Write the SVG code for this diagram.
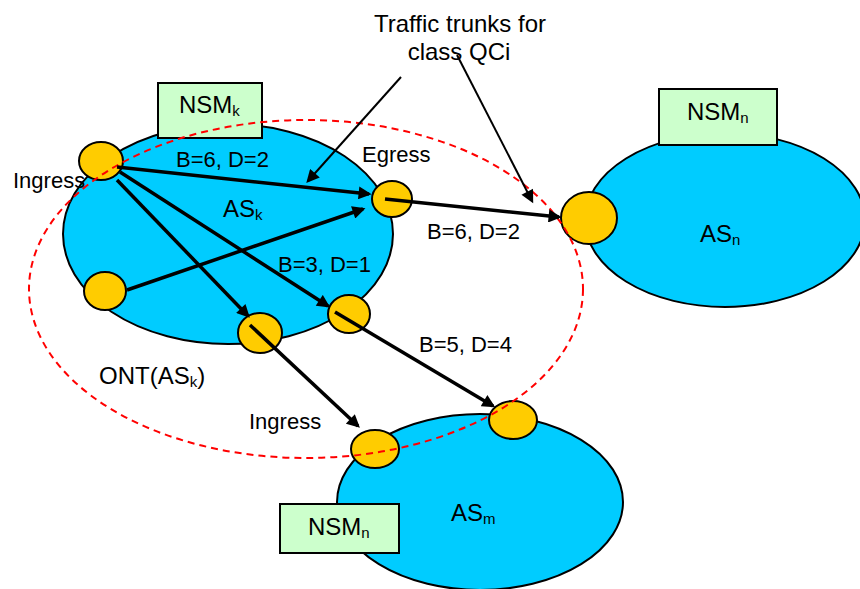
<svg xmlns="http://www.w3.org/2000/svg" width="860" height="589" viewBox="0 0 860 589">
<style>
.as{fill:#00CCFF;stroke:#000;stroke-width:2}
.pt{fill:#FFCC00;stroke:#000;stroke-width:2}
.nsm{fill:#CCFFCC;stroke:#000;stroke-width:2}
.ont{fill:none;stroke:#FF0000;stroke-width:2;stroke-dasharray:7 5}
.t24{font-family:"Liberation Sans",Arial,sans-serif;font-size:24px;fill:#000}
.t22{font-family:"Liberation Sans",Arial,sans-serif;font-size:22px;fill:#000}
.sub{font-size:15px}
.arr{stroke:#000;stroke-width:3.5;fill:none;marker-end:url(#ah)}
.ann{stroke:#000;stroke-width:2;fill:none;marker-end:url(#ah)}
</style>
<defs>
<marker id="ah" viewBox="0 0 10 10" refX="8" refY="5" markerWidth="14" markerHeight="13" markerUnits="userSpaceOnUse" orient="auto">
<path d="M0,0 L10,5 L0,10 z" fill="#000"/>
</marker>
</defs>
<rect width="860" height="589" fill="#fff"/>

<g id="ASk">
<ellipse class="as" cx="228" cy="234" rx="165" ry="110"/>
<text class="t24" x="223" y="217">AS<tspan class="sub" dy="3">k</tspan></text>
</g>
<g id="ASn">
<ellipse class="as" cx="725" cy="220" rx="140" ry="87"/>
<text class="t24" x="700" y="242">AS<tspan class="sub" dy="3">n</tspan></text>
</g>
<g id="ASm">
<ellipse class="as" cx="480" cy="502" rx="143" ry="88"/>
<text class="t24" x="451" y="521">AS<tspan class="sub" dy="3">m</tspan></text>
</g>

<g id="NSMk">
<rect class="nsm" x="158" y="83" width="104" height="55"/>
<text class="t24" x="179" y="113">NSM<tspan class="sub" dy="3">k</tspan></text>
</g>
<g id="NSMn-top">
<rect class="nsm" x="659" y="89" width="118" height="56"/>
<text class="t24" x="687" y="120">NSM<tspan class="sub" dy="3">n</tspan></text>
</g>
<g id="NSMn-bottom">
<rect class="nsm" x="280" y="504" width="119" height="49"/>
<text class="t24" x="308" y="535">NSM<tspan class="sub" dy="3">n</tspan></text>
</g>

<g id="ingress-k"><ellipse class="pt" cx="101" cy="161" rx="22" ry="19"/></g>
<g id="node-k-left"><ellipse class="pt" cx="105" cy="291" rx="21" ry="19"/></g>
<g id="egress-k"><ellipse class="pt" cx="392" cy="199" rx="20" ry="18"/></g>
<g id="node-k-bottom"><ellipse class="pt" cx="260" cy="333" rx="22" ry="20"/></g>
<g id="node-k-right"><ellipse class="pt" cx="349" cy="314" rx="21" ry="19"/></g>
<g id="ingress-n"><ellipse class="pt" cx="589" cy="218" rx="28" ry="26"/></g>
<g id="ingress-m"><ellipse class="pt" cx="375" cy="449" rx="24" ry="19"/></g>
<g id="egress-m"><ellipse class="pt" cx="513" cy="420" rx="24" ry="19"/></g>

<g id="ONT">
<ellipse class="ont" cx="306" cy="289" rx="277" ry="169"/>
<text class="t24" x="99" y="384">ONT(AS<tspan class="sub" dy="3">k</tspan><tspan dy="-3">)</tspan></text>
</g>

<g id="connectors">
<line class="arr" x1="117" y1="167" x2="369" y2="194"/>
<line class="arr" x1="120" y1="172" x2="328" y2="306"/>
<line class="arr" x1="117" y1="180" x2="248" y2="316"/>
<line class="arr" x1="127" y1="290" x2="363" y2="209"/>
<line class="arr" x1="385" y1="199" x2="559" y2="217"/>
<line class="arr" x1="335" y1="312" x2="493" y2="406"/>
<line class="arr" x1="250" y1="325" x2="358" y2="426"/>
<line class="ann" x1="401" y1="77" x2="308" y2="181"/>
<line class="ann" x1="457" y1="55" x2="532" y2="201"/>
</g>

<g id="labels">
<text class="t24" x="460" y="32" text-anchor="middle">Traffic trunks for</text>
<text class="t24" x="459" y="60" text-anchor="middle">class QCi</text>
<text class="t22" x="176" y="167">B=6, D=2</text>
<text class="t22" x="362" y="162">Egress</text>
<text class="t22" x="13" y="188">Ingress</text>
<text class="t22" x="427" y="239">B=6, D=2</text>
<text class="t22" x="278" y="272">B=3, D=1</text>
<text class="t22" x="419" y="352">B=5, D=4</text>
<text class="t22" x="249" y="429">Ingress</text>
</g>
</svg>
